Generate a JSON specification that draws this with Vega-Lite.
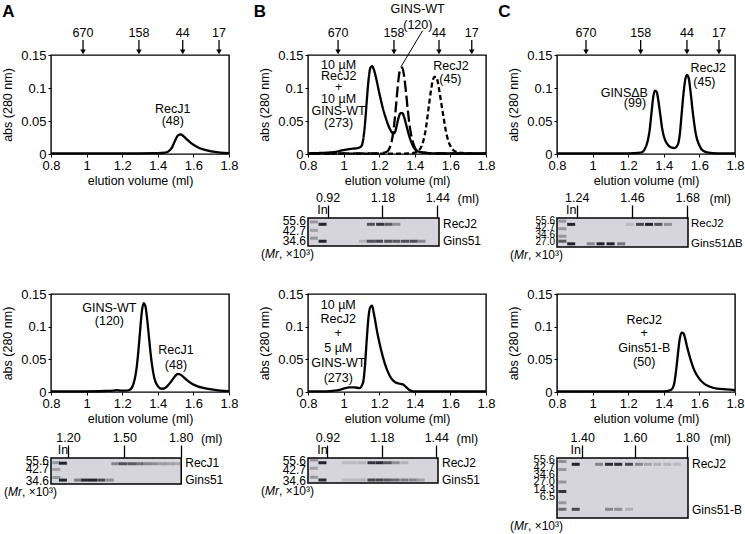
{
 "$schema": "https://vega.github.io/schema/vega-lite/v6.json",
 "padding": {"left": 0, "top": 2, "right": 0, "bottom": 0},
 "background": "white",
 "datasets": {
  "curves": [
   {"p":"A1","s":"c","ml":0.8,"abs":0.001},{"p":"A1","s":"c","ml":1.0,"abs":0.001},{"p":"A1","s":"c","ml":1.2,"abs":0.001},{"p":"A1","s":"c","ml":1.4,"abs":0.0012},{"p":"A1","s":"c","ml":1.44,"abs":0.002},{"p":"A1","s":"c","ml":1.46,"abs":0.004},{"p":"A1","s":"c","ml":1.48,"abs":0.01},{"p":"A1","s":"c","ml":1.49,"abs":0.016},{"p":"A1","s":"c","ml":1.5,"abs":0.022},{"p":"A1","s":"c","ml":1.51,"abs":0.027},{"p":"A1","s":"c","ml":1.52,"abs":0.0295},{"p":"A1","s":"c","ml":1.53,"abs":0.0298},{"p":"A1","s":"c","ml":1.54,"abs":0.028},{"p":"A1","s":"c","ml":1.56,"abs":0.023},{"p":"A1","s":"c","ml":1.58,"abs":0.018},{"p":"A1","s":"c","ml":1.6,"abs":0.014},{"p":"A1","s":"c","ml":1.63,"abs":0.0095},{"p":"A1","s":"c","ml":1.66,"abs":0.0065},{"p":"A1","s":"c","ml":1.7,"abs":0.004},{"p":"A1","s":"c","ml":1.75,"abs":0.0022},{"p":"A1","s":"c","ml":1.8,"abs":0.0012},
   {"p":"A2","s":"c","ml":0.8,"abs":0.001},{"p":"A2","s":"c","ml":1.0,"abs":0.001},{"p":"A2","s":"c","ml":1.1,"abs":0.0015},{"p":"A2","s":"c","ml":1.15,"abs":0.002},{"p":"A2","s":"c","ml":1.17,"abs":0.0028},{"p":"A2","s":"c","ml":1.19,"abs":0.0022},{"p":"A2","s":"c","ml":1.22,"abs":0.002},{"p":"A2","s":"c","ml":1.24,"abs":0.003},{"p":"A2","s":"c","ml":1.26,"abs":0.01},{"p":"A2","s":"c","ml":1.28,"abs":0.035},{"p":"A2","s":"c","ml":1.29,"abs":0.06},{"p":"A2","s":"c","ml":1.3,"abs":0.092},{"p":"A2","s":"c","ml":1.31,"abs":0.122},{"p":"A2","s":"c","ml":1.32,"abs":0.136},{"p":"A2","s":"c","ml":1.33,"abs":0.132},{"p":"A2","s":"c","ml":1.34,"abs":0.112},{"p":"A2","s":"c","ml":1.35,"abs":0.085},{"p":"A2","s":"c","ml":1.36,"abs":0.058},{"p":"A2","s":"c","ml":1.37,"abs":0.037},{"p":"A2","s":"c","ml":1.38,"abs":0.022},{"p":"A2","s":"c","ml":1.4,"abs":0.009},{"p":"A2","s":"c","ml":1.42,"abs":0.005},{"p":"A2","s":"c","ml":1.44,"abs":0.006},{"p":"A2","s":"c","ml":1.46,"abs":0.011},{"p":"A2","s":"c","ml":1.48,"abs":0.018},{"p":"A2","s":"c","ml":1.5,"abs":0.025},{"p":"A2","s":"c","ml":1.51,"abs":0.0275},{"p":"A2","s":"c","ml":1.52,"abs":0.0275},{"p":"A2","s":"c","ml":1.54,"abs":0.024},{"p":"A2","s":"c","ml":1.56,"abs":0.019},{"p":"A2","s":"c","ml":1.59,"abs":0.013},{"p":"A2","s":"c","ml":1.62,"abs":0.009},{"p":"A2","s":"c","ml":1.66,"abs":0.006},{"p":"A2","s":"c","ml":1.7,"abs":0.004},{"p":"A2","s":"c","ml":1.75,"abs":0.002},{"p":"A2","s":"c","ml":1.8,"abs":0.0012},
   {"p":"B1","s":"c","ml":0.8,"abs":0.001},{"p":"B1","s":"c","ml":0.9,"abs":0.002},{"p":"B1","s":"c","ml":0.95,"abs":0.003},{"p":"B1","s":"c","ml":1.0,"abs":0.006},{"p":"B1","s":"c","ml":1.05,"abs":0.008},{"p":"B1","s":"c","ml":1.08,"abs":0.009},{"p":"B1","s":"c","ml":1.1,"abs":0.012},{"p":"B1","s":"c","ml":1.11,"abs":0.022},{"p":"B1","s":"c","ml":1.12,"abs":0.045},{"p":"B1","s":"c","ml":1.13,"abs":0.08},{"p":"B1","s":"c","ml":1.14,"abs":0.112},{"p":"B1","s":"c","ml":1.15,"abs":0.13},{"p":"B1","s":"c","ml":1.16,"abs":0.133},{"p":"B1","s":"c","ml":1.17,"abs":0.128},{"p":"B1","s":"c","ml":1.18,"abs":0.118},{"p":"B1","s":"c","ml":1.2,"abs":0.093},{"p":"B1","s":"c","ml":1.22,"abs":0.07},{"p":"B1","s":"c","ml":1.24,"abs":0.052},{"p":"B1","s":"c","ml":1.26,"abs":0.038},{"p":"B1","s":"c","ml":1.28,"abs":0.031},{"p":"B1","s":"c","ml":1.29,"abs":0.034},{"p":"B1","s":"c","ml":1.3,"abs":0.045},{"p":"B1","s":"c","ml":1.31,"abs":0.056},{"p":"B1","s":"c","ml":1.32,"abs":0.062},{"p":"B1","s":"c","ml":1.33,"abs":0.062},{"p":"B1","s":"c","ml":1.34,"abs":0.056},{"p":"B1","s":"c","ml":1.35,"abs":0.046},{"p":"B1","s":"c","ml":1.37,"abs":0.026},{"p":"B1","s":"c","ml":1.39,"abs":0.012},{"p":"B1","s":"c","ml":1.41,"abs":0.005},{"p":"B1","s":"c","ml":1.43,"abs":0.003},{"p":"B1","s":"c","ml":1.46,"abs":0.002},{"p":"B1","s":"c","ml":1.5,"abs":0.001},{"p":"B1","s":"c","ml":1.8,"abs":0.001},
   {"p":"B1","s":"g","ml":0.8,"abs":0.0005},{"p":"B1","s":"g","ml":1.0,"abs":0.001},{"p":"B1","s":"g","ml":1.2,"abs":0.001},{"p":"B1","s":"g","ml":1.24,"abs":0.003},{"p":"B1","s":"g","ml":1.26,"abs":0.01},{"p":"B1","s":"g","ml":1.28,"abs":0.035},{"p":"B1","s":"g","ml":1.29,"abs":0.06},{"p":"B1","s":"g","ml":1.3,"abs":0.09},{"p":"B1","s":"g","ml":1.31,"abs":0.117},{"p":"B1","s":"g","ml":1.32,"abs":0.13},{"p":"B1","s":"g","ml":1.33,"abs":0.131},{"p":"B1","s":"g","ml":1.34,"abs":0.118},{"p":"B1","s":"g","ml":1.35,"abs":0.095},{"p":"B1","s":"g","ml":1.36,"abs":0.068},{"p":"B1","s":"g","ml":1.37,"abs":0.045},{"p":"B1","s":"g","ml":1.38,"abs":0.028},{"p":"B1","s":"g","ml":1.4,"abs":0.01},{"p":"B1","s":"g","ml":1.42,"abs":0.004},{"p":"B1","s":"g","ml":1.45,"abs":0.002},{"p":"B1","s":"g","ml":1.5,"abs":0.001},{"p":"B1","s":"g","ml":1.8,"abs":0.0005},
   {"p":"B1","s":"r","ml":0.8,"abs":0.0005},{"p":"B1","s":"r","ml":1.3,"abs":0.0005},{"p":"B1","s":"r","ml":1.38,"abs":0.001},{"p":"B1","s":"r","ml":1.4,"abs":0.002},{"p":"B1","s":"r","ml":1.42,"abs":0.005},{"p":"B1","s":"r","ml":1.44,"abs":0.013},{"p":"B1","s":"r","ml":1.46,"abs":0.035},{"p":"B1","s":"r","ml":1.48,"abs":0.075},{"p":"B1","s":"r","ml":1.49,"abs":0.095},{"p":"B1","s":"r","ml":1.5,"abs":0.11},{"p":"B1","s":"r","ml":1.51,"abs":0.117},{"p":"B1","s":"r","ml":1.52,"abs":0.117},{"p":"B1","s":"r","ml":1.53,"abs":0.108},{"p":"B1","s":"r","ml":1.54,"abs":0.092},{"p":"B1","s":"r","ml":1.56,"abs":0.058},{"p":"B1","s":"r","ml":1.58,"abs":0.028},{"p":"B1","s":"r","ml":1.6,"abs":0.012},{"p":"B1","s":"r","ml":1.62,"abs":0.005},{"p":"B1","s":"r","ml":1.65,"abs":0.002},{"p":"B1","s":"r","ml":1.7,"abs":0.001},{"p":"B1","s":"r","ml":1.8,"abs":0.0005},
   {"p":"B2","s":"c","ml":0.8,"abs":0.001},{"p":"B2","s":"c","ml":0.9,"abs":0.001},{"p":"B2","s":"c","ml":0.95,"abs":0.002},{"p":"B2","s":"c","ml":1.0,"abs":0.005},{"p":"B2","s":"c","ml":1.03,"abs":0.007},{"p":"B2","s":"c","ml":1.06,"abs":0.007},{"p":"B2","s":"c","ml":1.09,"abs":0.006},{"p":"B2","s":"c","ml":1.11,"abs":0.015},{"p":"B2","s":"c","ml":1.12,"abs":0.04},{"p":"B2","s":"c","ml":1.13,"abs":0.08},{"p":"B2","s":"c","ml":1.14,"abs":0.115},{"p":"B2","s":"c","ml":1.15,"abs":0.13},{"p":"B2","s":"c","ml":1.16,"abs":0.132},{"p":"B2","s":"c","ml":1.17,"abs":0.12},{"p":"B2","s":"c","ml":1.19,"abs":0.09},{"p":"B2","s":"c","ml":1.21,"abs":0.065},{"p":"B2","s":"c","ml":1.23,"abs":0.045},{"p":"B2","s":"c","ml":1.25,"abs":0.03},{"p":"B2","s":"c","ml":1.27,"abs":0.02},{"p":"B2","s":"c","ml":1.29,"abs":0.015},{"p":"B2","s":"c","ml":1.31,"abs":0.013},{"p":"B2","s":"c","ml":1.33,"abs":0.012},{"p":"B2","s":"c","ml":1.35,"abs":0.008},{"p":"B2","s":"c","ml":1.37,"abs":0.003},{"p":"B2","s":"c","ml":1.39,"abs":0.001},{"p":"B2","s":"c","ml":1.8,"abs":0.001},
   {"p":"C1","s":"c","ml":0.8,"abs":0.001},{"p":"C1","s":"c","ml":1.2,"abs":0.001},{"p":"C1","s":"c","ml":1.27,"abs":0.002},{"p":"C1","s":"c","ml":1.29,"abs":0.006},{"p":"C1","s":"c","ml":1.31,"abs":0.02},{"p":"C1","s":"c","ml":1.32,"abs":0.035},{"p":"C1","s":"c","ml":1.33,"abs":0.06},{"p":"C1","s":"c","ml":1.34,"abs":0.085},{"p":"C1","s":"c","ml":1.35,"abs":0.096},{"p":"C1","s":"c","ml":1.36,"abs":0.094},{"p":"C1","s":"c","ml":1.37,"abs":0.08},{"p":"C1","s":"c","ml":1.38,"abs":0.06},{"p":"C1","s":"c","ml":1.39,"abs":0.04},{"p":"C1","s":"c","ml":1.4,"abs":0.027},{"p":"C1","s":"c","ml":1.42,"abs":0.015},{"p":"C1","s":"c","ml":1.44,"abs":0.01},{"p":"C1","s":"c","ml":1.46,"abs":0.009},{"p":"C1","s":"c","ml":1.48,"abs":0.015},{"p":"C1","s":"c","ml":1.49,"abs":0.03},{"p":"C1","s":"c","ml":1.5,"abs":0.06},{"p":"C1","s":"c","ml":1.51,"abs":0.09},{"p":"C1","s":"c","ml":1.52,"abs":0.112},{"p":"C1","s":"c","ml":1.53,"abs":0.12},{"p":"C1","s":"c","ml":1.54,"abs":0.115},{"p":"C1","s":"c","ml":1.55,"abs":0.095},{"p":"C1","s":"c","ml":1.56,"abs":0.07},{"p":"C1","s":"c","ml":1.57,"abs":0.048},{"p":"C1","s":"c","ml":1.58,"abs":0.03},{"p":"C1","s":"c","ml":1.6,"abs":0.013},{"p":"C1","s":"c","ml":1.62,"abs":0.005},{"p":"C1","s":"c","ml":1.65,"abs":0.002},{"p":"C1","s":"c","ml":1.7,"abs":0.001},{"p":"C1","s":"c","ml":1.8,"abs":0.001},
   {"p":"C2","s":"c","ml":0.8,"abs":0.001},{"p":"C2","s":"c","ml":1.2,"abs":0.001},{"p":"C2","s":"c","ml":1.4,"abs":0.001},{"p":"C2","s":"c","ml":1.43,"abs":0.002},{"p":"C2","s":"c","ml":1.45,"abs":0.006},{"p":"C2","s":"c","ml":1.46,"abs":0.015},{"p":"C2","s":"c","ml":1.47,"abs":0.035},{"p":"C2","s":"c","ml":1.48,"abs":0.06},{"p":"C2","s":"c","ml":1.49,"abs":0.082},{"p":"C2","s":"c","ml":1.5,"abs":0.091},{"p":"C2","s":"c","ml":1.51,"abs":0.09},{"p":"C2","s":"c","ml":1.52,"abs":0.082},{"p":"C2","s":"c","ml":1.53,"abs":0.07},{"p":"C2","s":"c","ml":1.55,"abs":0.05},{"p":"C2","s":"c","ml":1.57,"abs":0.034},{"p":"C2","s":"c","ml":1.6,"abs":0.02},{"p":"C2","s":"c","ml":1.63,"abs":0.012},{"p":"C2","s":"c","ml":1.66,"abs":0.008},{"p":"C2","s":"c","ml":1.7,"abs":0.005},{"p":"C2","s":"c","ml":1.75,"abs":0.004},{"p":"C2","s":"c","ml":1.8,"abs":0.003}
  ],
  "mk": [
   {"p":"A1","t":"670","ml":0.98},{"p":"A1","t":"158","ml":1.294},{"p":"A1","t":"44","ml":1.54},{"p":"A1","t":"17","ml":1.744},
   {"p":"B1","t":"670","ml":0.969},{"p":"B1","t":"158","ml":1.283},{"p":"B1","t":"44","ml":1.536},{"p":"B1","t":"17","ml":1.72},
   {"p":"C1","t":"670","ml":0.963},{"p":"C1","t":"158","ml":1.27},{"p":"C1","t":"44","ml":1.53},{"p":"C1","t":"17","ml":1.71}
  ],
  "ann": [
   {"p":"A1","k":"L","t":"A","ml":0.561,"abs":0.2155},
   {"p":"A1","k":"n","t":"RecJ1","ml":1.484,"abs":0.068},{"p":"A1","k":"n","t":"(48)","ml":1.484,"abs":0.05},
   {"p":"A2","k":"n","t":"GINS-WT","ml":1.128,"abs":0.129},{"p":"A2","k":"n","t":"(120)","ml":1.128,"abs":0.108},{"p":"A2","k":"n","t":"RecJ1","ml":1.502,"abs":0.064},{"p":"A2","k":"n","t":"(48)","ml":1.502,"abs":0.042},
   {"p":"B1","k":"L","t":"B","ml":0.53,"abs":0.2155},
   {"p":"B1","k":"n","t":"10 µM","ml":0.972,"abs":0.135},{"p":"B1","k":"n","t":"RecJ2","ml":0.972,"abs":0.118},{"p":"B1","k":"n","t":"+","ml":0.972,"abs":0.102},{"p":"B1","k":"n","t":"10 µM","ml":0.972,"abs":0.084},{"p":"B1","k":"n","t":"GINS-WT","ml":0.972,"abs":0.065},{"p":"B1","k":"n","t":"(273)","ml":0.972,"abs":0.047},
   {"p":"B1","k":"n","t":"GINS-WT","ml":1.416,"abs":0.219},{"p":"B1","k":"n","t":"(120)","ml":1.417,"abs":0.196},{"p":"B1","k":"n","t":"RecJ2","ml":1.603,"abs":0.134},{"p":"B1","k":"n","t":"(45)","ml":1.6,"abs":0.113},
   {"p":"B2","k":"n","t":"10 µM","ml":0.97,"abs":0.133},{"p":"B2","k":"n","t":"RecJ2","ml":0.97,"abs":0.112},{"p":"B2","k":"n","t":"+","ml":0.97,"abs":0.091},{"p":"B2","k":"n","t":"5 µM","ml":0.97,"abs":0.067},{"p":"B2","k":"n","t":"GINS-WT","ml":0.97,"abs":0.044},{"p":"B2","k":"n","t":"(273)","ml":0.97,"abs":0.021},
   {"p":"C1","k":"L","t":"C","ml":0.504,"abs":0.2155},
   {"p":"C1","k":"n","t":"GINSΔB","ml":1.178,"abs":0.093},{"p":"C1","k":"n","t":"(99)","ml":1.238,"abs":0.077},{"p":"C1","k":"n","t":"RecJ2","ml":1.65,"abs":0.131},{"p":"C1","k":"n","t":"(45)","ml":1.628,"abs":0.109},
   {"p":"C2","k":"n","t":"RecJ2","ml":1.29,"abs":0.11},{"p":"C2","k":"n","t":"+","ml":1.29,"abs":0.091},{"p":"C2","k":"n","t":"Gins51-B","ml":1.29,"abs":0.067},{"p":"C2","k":"n","t":"(50)","ml":1.29,"abs":0.046}
  ],
  "lead": [{"p":"B1","ml":1.444,"abs":0.187,"ml2":1.322,"abs2":0.132}],
  "bands": [
   {"g":"A2","ml":1.138,"pos":0.18,"v":0.35},{"g":"A2","ml":1.138,"pos":0.44,"v":0.3},{"g":"A2","ml":1.138,"pos":0.75,"v":0.35},
   {"g":"A2","ml":1.173,"pos":0.2,"v":1},{"g":"A2","ml":1.173,"pos":0.85,"v":1},
   {"g":"A2","ml":1.253,"pos":0.85,"v":0.5},{"g":"A2","ml":1.292,"pos":0.85,"v":0.95},{"g":"A2","ml":1.333,"pos":0.85,"v":1},{"g":"A2","ml":1.377,"pos":0.85,"v":0.8},{"g":"A2","ml":1.422,"pos":0.85,"v":0.4},
   {"g":"A2","ml":1.452,"pos":0.22,"v":0.45},{"g":"A2","ml":1.493,"pos":0.22,"v":0.75},{"g":"A2","ml":1.537,"pos":0.22,"v":0.7},{"g":"A2","ml":1.578,"pos":0.22,"v":0.55},{"g":"A2","ml":1.617,"pos":0.22,"v":0.45},{"g":"A2","ml":1.658,"pos":0.22,"v":0.4},{"g":"A2","ml":1.701,"pos":0.22,"v":0.32},{"g":"A2","ml":1.742,"pos":0.22,"v":0.28},{"g":"A2","ml":1.782,"pos":0.22,"v":0.25},
   {"g":"B1","ml":0.855,"pos":0.14,"v":0.35},{"g":"B1","ml":0.855,"pos":0.44,"v":0.3},{"g":"B1","ml":0.855,"pos":0.72,"v":0.35},
   {"g":"B1","ml":0.896,"pos":0.225,"v":1},{"g":"B1","ml":0.896,"pos":0.83,"v":1},
   {"g":"B1","ml":1.125,"pos":0.225,"v":0.75},{"g":"B1","ml":1.169,"pos":0.225,"v":0.9},{"g":"B1","ml":1.208,"pos":0.225,"v":0.7},{"g":"B1","ml":1.246,"pos":0.225,"v":0.4},
   {"g":"B1","ml":1.088,"pos":0.83,"v":0.2},{"g":"B1","ml":1.125,"pos":0.83,"v":0.75},{"g":"B1","ml":1.164,"pos":0.83,"v":0.8},{"g":"B1","ml":1.207,"pos":0.83,"v":0.75},{"g":"B1","ml":1.246,"pos":0.83,"v":0.7},{"g":"B1","ml":1.287,"pos":0.83,"v":0.75},{"g":"B1","ml":1.327,"pos":0.83,"v":0.75},{"g":"B1","ml":1.365,"pos":0.83,"v":0.45},
   {"g":"B2","ml":0.855,"pos":0.08,"v":0.35},{"g":"B2","ml":0.855,"pos":0.41,"v":0.3},{"g":"B2","ml":0.855,"pos":0.77,"v":0.35},
   {"g":"B2","ml":0.896,"pos":0.19,"v":1},{"g":"B2","ml":0.896,"pos":0.88,"v":0.95},
   {"g":"B2","ml":1.007,"pos":0.19,"v":0.15},{"g":"B2","ml":1.046,"pos":0.19,"v":0.15},{"g":"B2","ml":1.086,"pos":0.19,"v":0.18},{"g":"B2","ml":1.13,"pos":0.19,"v":0.9},{"g":"B2","ml":1.169,"pos":0.19,"v":0.95},{"g":"B2","ml":1.208,"pos":0.19,"v":0.7},{"g":"B2","ml":1.246,"pos":0.19,"v":0.4},{"g":"B2","ml":1.287,"pos":0.19,"v":0.2},
   {"g":"B2","ml":1.007,"pos":0.88,"v":0.15},{"g":"B2","ml":1.046,"pos":0.88,"v":0.15},{"g":"B2","ml":1.086,"pos":0.88,"v":0.18},{"g":"B2","ml":1.13,"pos":0.88,"v":0.8},{"g":"B2","ml":1.169,"pos":0.88,"v":0.8},{"g":"B2","ml":1.208,"pos":0.88,"v":0.7},{"g":"B2","ml":1.246,"pos":0.88,"v":0.6},{"g":"B2","ml":1.287,"pos":0.88,"v":0.5},{"g":"B2","ml":1.327,"pos":0.88,"v":0.45},{"g":"B2","ml":1.365,"pos":0.88,"v":0.3},
   {"g":"C1","ml":1.183,"pos":0.11,"v":0.35},{"g":"C1","ml":1.183,"pos":0.37,"v":0.35},{"g":"C1","ml":1.183,"pos":0.63,"v":0.35},{"g":"C1","ml":1.183,"pos":0.8,"v":0.7},
   {"g":"C1","ml":1.218,"pos":0.22,"v":1},{"g":"C1","ml":1.218,"pos":0.89,"v":1},
   {"g":"C1","ml":1.296,"pos":0.89,"v":0.45},{"g":"C1","ml":1.335,"pos":0.89,"v":1},{"g":"C1","ml":1.375,"pos":0.89,"v":1},{"g":"C1","ml":1.417,"pos":0.89,"v":0.55},
   {"g":"C1","ml":1.452,"pos":0.22,"v":0.15},{"g":"C1","ml":1.492,"pos":0.22,"v":0.8},{"g":"C1","ml":1.528,"pos":0.22,"v":1},{"g":"C1","ml":1.565,"pos":0.22,"v":0.75},{"g":"C1","ml":1.603,"pos":0.22,"v":0.4},
   {"g":"C2","ml":1.324,"pos":0.06,"v":0.4},{"g":"C2","ml":1.324,"pos":0.19,"v":0.35},{"g":"C2","ml":1.324,"pos":0.4,"v":0.35},{"g":"C2","ml":1.324,"pos":0.56,"v":0.9},{"g":"C2","ml":1.324,"pos":0.745,"v":0.35},{"g":"C2","ml":1.324,"pos":0.855,"v":0.6},
   {"g":"C2","ml":1.375,"pos":0.105,"v":1},{"g":"C2","ml":1.375,"pos":0.855,"v":0.8},
   {"g":"C2","ml":1.464,"pos":0.105,"v":0.45},{"g":"C2","ml":1.502,"pos":0.105,"v":0.95},{"g":"C2","ml":1.537,"pos":0.105,"v":0.95},{"g":"C2","ml":1.578,"pos":0.105,"v":0.8},{"g":"C2","ml":1.616,"pos":0.105,"v":0.45},{"g":"C2","ml":1.65,"pos":0.105,"v":0.28},{"g":"C2","ml":1.686,"pos":0.105,"v":0.22},{"g":"C2","ml":1.724,"pos":0.105,"v":0.18},{"g":"C2","ml":1.76,"pos":0.105,"v":0.15},
   {"g":"C2","ml":1.502,"pos":0.855,"v":0.45},{"g":"C2","ml":1.537,"pos":0.855,"v":0.4},{"g":"C2","ml":1.578,"pos":0.855,"v":0.2}
  ],
  "gl": [
   {"g":"A2","side":"L","t":"55.6","pos":0.13},{"g":"A2","side":"L","t":"42.7","pos":0.44},{"g":"A2","side":"L","t":"34.6","pos":0.88},
   {"g":"A2","side":"R","t":"RecJ1","pos":0.18},{"g":"A2","side":"R","t":"Gins51","pos":0.85},
   {"g":"A2","side":"In","t":"In","ml":1.173},{"g":"A2","side":"U","t":"(ml)"},{"g":"A2","side":"M","t":", ×10³)"},{"g":"A2","side":"Mi","t":"Mr"},{"g":"A2","side":"Mp","t":"("},
   {"g":"B1","side":"L","t":"55.6","pos":0.12},{"g":"B1","side":"L","t":"42.7","pos":0.45},{"g":"B1","side":"L","t":"34.6","pos":0.82},
   {"g":"B1","side":"R","t":"RecJ2","pos":0.21},{"g":"B1","side":"R","t":"Gins51","pos":0.83},
   {"g":"B1","side":"In","t":"In","ml":0.896},{"g":"B1","side":"U","t":"(ml)"},{"g":"B1","side":"M","t":", ×10³)"},{"g":"B1","side":"Mi","t":"Mr"},{"g":"B1","side":"Mp","t":"("},
   {"g":"B2","side":"L","t":"55.6","pos":0.13},{"g":"B2","side":"L","t":"42.7","pos":0.48},{"g":"B2","side":"L","t":"34.6","pos":0.92},
   {"g":"B2","side":"R","t":"RecJ2","pos":0.19},{"g":"B2","side":"R","t":"Gins51","pos":0.88},
   {"g":"B2","side":"In","t":"In","ml":0.896},{"g":"B2","side":"U","t":"(ml)"},{"g":"B2","side":"M","t":", ×10³)"},{"g":"B2","side":"Mi","t":"Mr"},{"g":"B2","side":"Mp","t":"("},
   {"g":"C1","side":"L","t":"55.6","pos":0.1},{"g":"C1","side":"L","t":"42.7","pos":0.34},{"g":"C1","side":"L","t":"34.6","pos":0.58},{"g":"C1","side":"L","t":"27.0","pos":0.82},
   {"g":"C1","side":"R","t":"RecJ2","pos":0.22},{"g":"C1","side":"R","t":"Gins51ΔB","pos":0.89},
   {"g":"C1","side":"In","t":"In","ml":1.218},{"g":"C1","side":"U","t":"(ml)"},{"g":"C1","side":"M","t":", ×10³)"},{"g":"C1","side":"Mi","t":"Mr"},{"g":"C1","side":"Mp","t":"("},
   {"g":"C2","side":"L","t":"55.6","pos":0.04},{"g":"C2","side":"L","t":"42.7","pos":0.16},{"g":"C2","side":"L","t":"34.6","pos":0.28},{"g":"C2","side":"L","t":"27.0","pos":0.4},{"g":"C2","side":"L","t":"14.3","pos":0.53},{"g":"C2","side":"L","t":"6.5","pos":0.65},
   {"g":"C2","side":"R","t":"RecJ2","pos":0.105},{"g":"C2","side":"R","t":"Gins51-B","pos":0.86},
   {"g":"C2","side":"In","t":"In","ml":1.375},{"g":"C2","side":"U","t":"(ml)"},{"g":"C2","side":"M","t":", ×10³)"},{"g":"C2","side":"Mi","t":"Mr"},{"g":"C2","side":"Mp","t":"("}
  ]
 },
 "spacing": 25,
 "vconcat": [
  {
   "columns": 3, "align": "each", "bounds": "flush", "spacing": {"row": 64, "column": 71},
   "concat": [
    {
     "width": 178, "height": 99, "view": {"stroke": "black", "strokeWidth": 1.4},
     "layer": [
      {"data": {"name": "curves"}, "transform": [{"filter": "datum.p === 'A1'"}], "mark": {"type": "line", "color": "black", "strokeWidth": 2.3, "interpolate": "monotone"},
       "encoding": {"x": {"field": "ml", "type": "quantitative", "scale": {"domain": [0.8, 1.8], "nice": false, "zero": false}, "axis": {"values": [0.8, 1, 1.2, 1.4, 1.6, 1.8], "tickCount": 12, "format": ".1~f", "labelOverlap": false, "title": "elution volume (ml)"}}, "y": {"field": "abs", "type": "quantitative", "scale": {"domain": [0, 0.15], "nice": false, "zero": false}, "axis": {"values": [0, 0.05, 0.1, 0.15], "tickCount": 12, "format": ".2~f", "labelOverlap": false, "title": "abs (280 nm)"}}}},
      {"data": {"name": "mk"}, "transform": [{"filter": "datum.p === 'A1'"}], "mark": {"type": "rule", "color": "black", "strokeWidth": 1.3}, "encoding": {"x": {"field": "ml", "type": "quantitative"}, "y": {"datum": 0.1727}, "y2": {"datum": 0.153}}},
      {"data": {"name": "mk"}, "transform": [{"filter": "datum.p === 'A1'"}], "mark": {"type": "point", "shape": "triangle-down", "filled": true, "size": 30, "color": "black", "opacity": 1}, "encoding": {"x": {"field": "ml", "type": "quantitative"}, "y": {"datum": 0.1548}}},
      {"data": {"name": "mk"}, "transform": [{"filter": "datum.p === 'A1'"}], "mark": {"type": "text", "fontSize": 12.5}, "encoding": {"x": {"field": "ml", "type": "quantitative"}, "y": {"datum": 0.1833}, "text": {"field": "t"}}},
      {"data": {"name": "ann"}, "transform": [{"filter": "datum.p === 'A1' && datum.k === 'n'"}], "mark": {"type": "text", "fontSize": 12.5}, "encoding": {"x": {"field": "ml", "type": "quantitative"}, "y": {"field": "abs", "type": "quantitative"}, "text": {"field": "t"}}},
      {"data": {"name": "ann"}, "transform": [{"filter": "datum.p === 'A1' && datum.k === 'L'"}], "mark": {"type": "text", "fontSize": 17, "fontWeight": "bold"}, "encoding": {"x": {"field": "ml", "type": "quantitative"}, "y": {"field": "abs", "type": "quantitative"}, "text": {"field": "t"}}}
     ]
    },
    {
     "width": 178, "height": 99, "view": {"stroke": "black", "strokeWidth": 1.4},
     "layer": [
      {"data": {"name": "curves"}, "transform": [{"filter": "datum.p === 'B1'"}], "mark": {"type": "line", "color": "black", "strokeWidth": 2.3, "interpolate": "monotone"},
       "encoding": {"x": {"field": "ml", "type": "quantitative", "scale": {"domain": [0.8, 1.8], "nice": false, "zero": false}, "axis": {"values": [0.8, 1, 1.2, 1.4, 1.6, 1.8], "tickCount": 12, "format": ".1~f", "labelOverlap": false, "title": "elution volume (ml)"}}, "y": {"field": "abs", "type": "quantitative", "scale": {"domain": [0, 0.15], "nice": false, "zero": false}, "axis": {"values": [0, 0.05, 0.1, 0.15], "tickCount": 12, "format": ".2~f", "labelOverlap": false, "title": "abs (280 nm)"}},
        "strokeDash": {"field": "s", "type": "nominal", "scale": {"domain": ["c", "g", "r"], "range": [[1, 0], [11, 4], [5, 3]]}, "legend": null}}},
      {"data": {"name": "lead"}, "mark": {"type": "rule", "color": "black", "strokeWidth": 1}, "encoding": {"x": {"field": "ml", "type": "quantitative"}, "y": {"field": "abs", "type": "quantitative"}, "x2": {"field": "ml2"}, "y2": {"field": "abs2"}}},
      {"data": {"name": "mk"}, "transform": [{"filter": "datum.p === 'B1'"}], "mark": {"type": "rule", "color": "black", "strokeWidth": 1.3}, "encoding": {"x": {"field": "ml", "type": "quantitative"}, "y": {"datum": 0.1727}, "y2": {"datum": 0.153}}},
      {"data": {"name": "mk"}, "transform": [{"filter": "datum.p === 'B1'"}], "mark": {"type": "point", "shape": "triangle-down", "filled": true, "size": 30, "color": "black", "opacity": 1}, "encoding": {"x": {"field": "ml", "type": "quantitative"}, "y": {"datum": 0.1548}}},
      {"data": {"name": "mk"}, "transform": [{"filter": "datum.p === 'B1'"}], "mark": {"type": "text", "fontSize": 12.5}, "encoding": {"x": {"field": "ml", "type": "quantitative"}, "y": {"datum": 0.1833}, "text": {"field": "t"}}},
      {"data": {"name": "ann"}, "transform": [{"filter": "datum.p === 'B1' && datum.k === 'n'"}], "mark": {"type": "text", "fontSize": 12.5}, "encoding": {"x": {"field": "ml", "type": "quantitative"}, "y": {"field": "abs", "type": "quantitative"}, "text": {"field": "t"}}},
      {"data": {"name": "ann"}, "transform": [{"filter": "datum.p === 'B1' && datum.k === 'L'"}], "mark": {"type": "text", "fontSize": 17, "fontWeight": "bold"}, "encoding": {"x": {"field": "ml", "type": "quantitative"}, "y": {"field": "abs", "type": "quantitative"}, "text": {"field": "t"}}}
     ]
    },
    {
     "width": 178, "height": 99, "view": {"stroke": "black", "strokeWidth": 1.4},
     "layer": [
      {"data": {"name": "curves"}, "transform": [{"filter": "datum.p === 'C1'"}], "mark": {"type": "line", "color": "black", "strokeWidth": 2.3, "interpolate": "monotone"},
       "encoding": {"x": {"field": "ml", "type": "quantitative", "scale": {"domain": [0.8, 1.8], "nice": false, "zero": false}, "axis": {"values": [0.8, 1, 1.2, 1.4, 1.6, 1.8], "tickCount": 12, "format": ".1~f", "labelOverlap": false, "title": "elution volume (ml)"}}, "y": {"field": "abs", "type": "quantitative", "scale": {"domain": [0, 0.15], "nice": false, "zero": false}, "axis": {"values": [0, 0.05, 0.1, 0.15], "tickCount": 12, "format": ".2~f", "labelOverlap": false, "title": "abs (280 nm)"}}}},
      {"data": {"name": "mk"}, "transform": [{"filter": "datum.p === 'C1'"}], "mark": {"type": "rule", "color": "black", "strokeWidth": 1.3}, "encoding": {"x": {"field": "ml", "type": "quantitative"}, "y": {"datum": 0.1727}, "y2": {"datum": 0.153}}},
      {"data": {"name": "mk"}, "transform": [{"filter": "datum.p === 'C1'"}], "mark": {"type": "point", "shape": "triangle-down", "filled": true, "size": 30, "color": "black", "opacity": 1}, "encoding": {"x": {"field": "ml", "type": "quantitative"}, "y": {"datum": 0.1548}}},
      {"data": {"name": "mk"}, "transform": [{"filter": "datum.p === 'C1'"}], "mark": {"type": "text", "fontSize": 12.5}, "encoding": {"x": {"field": "ml", "type": "quantitative"}, "y": {"datum": 0.1833}, "text": {"field": "t"}}},
      {"data": {"name": "ann"}, "transform": [{"filter": "datum.p === 'C1' && datum.k === 'n'"}], "mark": {"type": "text", "fontSize": 12.5}, "encoding": {"x": {"field": "ml", "type": "quantitative"}, "y": {"field": "abs", "type": "quantitative"}, "text": {"field": "t"}}},
      {"data": {"name": "ann"}, "transform": [{"filter": "datum.p === 'C1' && datum.k === 'L'"}], "mark": {"type": "text", "fontSize": 17, "fontWeight": "bold"}, "encoding": {"x": {"field": "ml", "type": "quantitative"}, "y": {"field": "abs", "type": "quantitative"}, "text": {"field": "t"}}}
     ]
    },
    {"width": 186, "height": 28, "data": {"values": [{"t": ""}]}, "mark": {"type": "text"}, "encoding": {"text": {"field": "t"}}},
    {
     "width": 131, "height": 28, "view": {"fill": "#d5d5db", "stroke": "black", "strokeWidth": 1.5},
     "layer": [
      {"data": {"name": "bands"}, "transform": [{"filter": "datum.g === 'B1'"}], "mark": {"type": "tick", "orient": "horizontal", "size": 8, "thickness": 3, "color": "#23232e"},
       "encoding": {"x": {"field": "ml", "type": "quantitative", "scale": {"domain": [0.827, 1.448], "nice": false, "zero": false}, "axis": {"orient": "top", "values": [0.92, 1.18, 1.44], "tickCount": 12, "format": ".2f", "labelOverlap": false, "tickSize": 13, "tickWidth": 1.3, "labelPadding": 1, "labelFontSize": 12.5, "title": null}}, "y": {"field": "pos", "type": "quantitative", "scale": {"domain": [0, 1], "reverse": true, "nice": false, "zero": false}, "axis": null}, "opacity": {"field": "v", "type": "quantitative", "scale": {"domain": [0, 1], "range": [0, 1]}, "legend": null}}},
      {"data": {"name": "gl"}, "transform": [{"filter": "datum.g === 'B1' && datum.side === 'L'"}], "mark": {"type": "text", "align": "right", "dx": -2, "fontSize": 12}, "encoding": {"x": {"datum": 0.827}, "y": {"field": "pos", "type": "quantitative", "axis": null}, "text": {"field": "t"}}},
      {"data": {"name": "gl"}, "transform": [{"filter": "datum.g === 'B1' && datum.side === 'R'"}], "mark": {"type": "text", "align": "left", "dx": 4, "fontSize": 12}, "encoding": {"x": {"datum": 1.448}, "y": {"field": "pos", "type": "quantitative", "axis": null}, "text": {"field": "t"}}},
      {"data": {"name": "gl"}, "transform": [{"filter": "datum.g === 'B1' && datum.side === 'In'"}], "mark": {"type": "text", "baseline": "bottom", "dy": -1, "fontSize": 12.5}, "encoding": {"x": {"field": "ml", "type": "quantitative"}, "y": {"datum": 0, "axis": null}, "text": {"field": "t"}}},
      {"data": {"name": "gl"}, "transform": [{"filter": "datum.g === 'B1' && datum.side === 'U'"}], "mark": {"type": "text", "dx": 31, "dy": -19.5, "fontSize": 12.5}, "encoding": {"x": {"datum": 1.44}, "y": {"datum": 0, "axis": null}, "text": {"field": "t"}}},
      {"data": {"name": "gl"}, "transform": [{"filter": "datum.g === 'B1' && datum.side === 'M'"}], "mark": {"type": "text", "align": "right", "baseline": "top", "dx": 6, "dy": 3, "fontSize": 12}, "encoding": {"x": {"datum": 0.827}, "y": {"datum": 1, "axis": null}, "text": {"field": "t"}}},
      {"data": {"name": "gl"}, "transform": [{"filter": "datum.g === 'B1' && datum.side === 'Mi'"}], "mark": {"type": "text", "align": "right", "baseline": "top", "dx": -29, "dy": 3, "fontSize": 12, "fontStyle": "italic"}, "encoding": {"x": {"datum": 0.827}, "y": {"datum": 1, "axis": null}, "text": {"field": "t"}}},
      {"data": {"name": "gl"}, "transform": [{"filter": "datum.g === 'B1' && datum.side === 'Mp'"}], "mark": {"type": "text", "align": "right", "baseline": "top", "dx": -43, "dy": 3, "fontSize": 12}, "encoding": {"x": {"datum": 0.827}, "y": {"datum": 1, "axis": null}, "text": {"field": "t"}}}
     ]
    },
    {
     "width": 131, "height": 29, "view": {"fill": "#d5d5db", "stroke": "black", "strokeWidth": 1.5},
     "layer": [
      {"data": {"name": "bands"}, "transform": [{"filter": "datum.g === 'C1'"}], "mark": {"type": "tick", "orient": "horizontal", "size": 8, "thickness": 3, "color": "#23232e"},
       "encoding": {"x": {"field": "ml", "type": "quantitative", "scale": {"domain": [1.1616, 1.683], "nice": false, "zero": false}, "axis": {"orient": "top", "values": [1.24, 1.46, 1.68], "tickCount": 12, "format": ".2f", "labelOverlap": false, "tickSize": 13, "tickWidth": 1.3, "labelPadding": 1, "labelFontSize": 12.5, "title": null}}, "y": {"field": "pos", "type": "quantitative", "scale": {"domain": [0, 1], "reverse": true, "nice": false, "zero": false}, "axis": null}, "opacity": {"field": "v", "type": "quantitative", "scale": {"domain": [0, 1], "range": [0, 1]}, "legend": null}}},
      {"data": {"name": "gl"}, "transform": [{"filter": "datum.g === 'C1' && datum.side === 'L'"}], "mark": {"type": "text", "align": "right", "dx": -2, "fontSize": 10}, "encoding": {"x": {"datum": 1.1616}, "y": {"field": "pos", "type": "quantitative", "axis": null}, "text": {"field": "t"}}},
      {"data": {"name": "gl"}, "transform": [{"filter": "datum.g === 'C1' && datum.side === 'R'"}], "mark": {"type": "text", "align": "left", "dx": 3, "fontSize": 11.5}, "encoding": {"x": {"datum": 1.683}, "y": {"field": "pos", "type": "quantitative", "axis": null}, "text": {"field": "t"}}},
      {"data": {"name": "gl"}, "transform": [{"filter": "datum.g === 'C1' && datum.side === 'In'"}], "mark": {"type": "text", "baseline": "bottom", "dy": -1, "fontSize": 12.5}, "encoding": {"x": {"field": "ml", "type": "quantitative"}, "y": {"datum": 0, "axis": null}, "text": {"field": "t"}}},
      {"data": {"name": "gl"}, "transform": [{"filter": "datum.g === 'C1' && datum.side === 'U'"}], "mark": {"type": "text", "dx": 33, "dy": -19.5, "fontSize": 12.5}, "encoding": {"x": {"datum": 1.68}, "y": {"datum": 0, "axis": null}, "text": {"field": "t"}}},
      {"data": {"name": "gl"}, "transform": [{"filter": "datum.g === 'C1' && datum.side === 'M'"}], "mark": {"type": "text", "align": "right", "baseline": "top", "dx": 6, "dy": 3, "fontSize": 12}, "encoding": {"x": {"datum": 1.1616}, "y": {"datum": 1, "axis": null}, "text": {"field": "t"}}},
      {"data": {"name": "gl"}, "transform": [{"filter": "datum.g === 'C1' && datum.side === 'Mi'"}], "mark": {"type": "text", "align": "right", "baseline": "top", "dx": -29, "dy": 3, "fontSize": 12, "fontStyle": "italic"}, "encoding": {"x": {"datum": 1.1616}, "y": {"datum": 1, "axis": null}, "text": {"field": "t"}}},
      {"data": {"name": "gl"}, "transform": [{"filter": "datum.g === 'C1' && datum.side === 'Mp'"}], "mark": {"type": "text", "align": "right", "baseline": "top", "dx": -43, "dy": 3, "fontSize": 12}, "encoding": {"x": {"datum": 1.1616}, "y": {"datum": 1, "axis": null}, "text": {"field": "t"}}}
     ]
    }
   ]
  },
  {
   "columns": 3, "align": "each", "bounds": "flush", "spacing": {"row": 66, "column": 71},
   "concat": [
    {
     "width": 178, "height": 98, "view": {"stroke": "black", "strokeWidth": 1.4},
     "layer": [
      {"data": {"name": "curves"}, "transform": [{"filter": "datum.p === 'A2'"}], "mark": {"type": "line", "color": "black", "strokeWidth": 2.3, "interpolate": "monotone"},
       "encoding": {"x": {"field": "ml", "type": "quantitative", "scale": {"domain": [0.8, 1.8], "nice": false, "zero": false}, "axis": {"values": [0.8, 1, 1.2, 1.4, 1.6, 1.8], "tickCount": 12, "format": ".1~f", "labelOverlap": false, "title": "elution volume (ml)"}}, "y": {"field": "abs", "type": "quantitative", "scale": {"domain": [0, 0.15], "nice": false, "zero": false}, "axis": {"values": [0, 0.05, 0.1, 0.15], "tickCount": 12, "format": ".2~f", "labelOverlap": false, "title": "abs (280 nm)"}}}},
      {"data": {"name": "ann"}, "transform": [{"filter": "datum.p === 'A2' && datum.k === 'n'"}], "mark": {"type": "text", "fontSize": 12.5}, "encoding": {"x": {"field": "ml", "type": "quantitative"}, "y": {"field": "abs", "type": "quantitative"}, "text": {"field": "t"}}}
     ]
    },
    {
     "width": 178, "height": 98, "view": {"stroke": "black", "strokeWidth": 1.4},
     "layer": [
      {"data": {"name": "curves"}, "transform": [{"filter": "datum.p === 'B2'"}], "mark": {"type": "line", "color": "black", "strokeWidth": 2.3, "interpolate": "monotone"},
       "encoding": {"x": {"field": "ml", "type": "quantitative", "scale": {"domain": [0.8, 1.8], "nice": false, "zero": false}, "axis": {"values": [0.8, 1, 1.2, 1.4, 1.6, 1.8], "tickCount": 12, "format": ".1~f", "labelOverlap": false, "title": "elution volume (ml)"}}, "y": {"field": "abs", "type": "quantitative", "scale": {"domain": [0, 0.15], "nice": false, "zero": false}, "axis": {"values": [0, 0.05, 0.1, 0.15], "tickCount": 12, "format": ".2~f", "labelOverlap": false, "title": "abs (280 nm)"}}}},
      {"data": {"name": "ann"}, "transform": [{"filter": "datum.p === 'B2' && datum.k === 'n'"}], "mark": {"type": "text", "fontSize": 12.5}, "encoding": {"x": {"field": "ml", "type": "quantitative"}, "y": {"field": "abs", "type": "quantitative"}, "text": {"field": "t"}}}
     ]
    },
    {
     "width": 178, "height": 98, "view": {"stroke": "black", "strokeWidth": 1.4},
     "layer": [
      {"data": {"name": "curves"}, "transform": [{"filter": "datum.p === 'C2'"}], "mark": {"type": "line", "color": "black", "strokeWidth": 2.3, "interpolate": "monotone"},
       "encoding": {"x": {"field": "ml", "type": "quantitative", "scale": {"domain": [0.8, 1.8], "nice": false, "zero": false}, "axis": {"values": [0.8, 1, 1.2, 1.4, 1.6, 1.8], "tickCount": 12, "format": ".1~f", "labelOverlap": false, "title": "elution volume (ml)"}}, "y": {"field": "abs", "type": "quantitative", "scale": {"domain": [0, 0.15], "nice": false, "zero": false}, "axis": {"values": [0, 0.05, 0.1, 0.15], "tickCount": 12, "format": ".2~f", "labelOverlap": false, "title": "abs (280 nm)"}}}},
      {"data": {"name": "ann"}, "transform": [{"filter": "datum.p === 'C2' && datum.k === 'n'"}], "mark": {"type": "text", "fontSize": 12.5}, "encoding": {"x": {"field": "ml", "type": "quantitative"}, "y": {"field": "abs", "type": "quantitative"}, "text": {"field": "t"}}}
     ]
    },
    {
     "width": 186, "height": 26,
     "layer": [
      {"mark": {"type": "rect", "fill": "#d5d5db", "stroke": "black", "strokeWidth": 1.5}, "data": {"values": [{"t": "gel"}]}, "encoding": {"x": {"datum": 1.1095}, "x2": {"datum": 1.803}, "y": {"datum": 0, "axis": null}, "y2": {"datum": 1}}},
      {"data": {"name": "bands"}, "transform": [{"filter": "datum.g === 'A2'"}], "mark": {"type": "tick", "orient": "horizontal", "size": 8, "thickness": 3, "color": "#23232e"},
       "encoding": {"x": {"field": "ml", "type": "quantitative", "scale": {"domain": [1.1095, 2.0999], "nice": false, "zero": false}, "axis": {"orient": "top", "values": [1.2, 1.5, 1.8], "tickCount": 12, "format": ".2f", "labelOverlap": false, "tickSize": 13, "tickWidth": 1.3, "labelPadding": 1, "labelFontSize": 12.5, "title": null}}, "y": {"field": "pos", "type": "quantitative", "scale": {"domain": [0, 1], "reverse": true, "nice": false, "zero": false}, "axis": null}, "opacity": {"field": "v", "type": "quantitative", "scale": {"domain": [0, 1], "range": [0, 1]}, "legend": null}}},
      {"data": {"name": "gl"}, "transform": [{"filter": "datum.g === 'A2' && datum.side === 'L'"}], "mark": {"type": "text", "align": "right", "dx": -2, "fontSize": 12}, "encoding": {"x": {"datum": 1.1095}, "y": {"field": "pos", "type": "quantitative", "axis": null}, "text": {"field": "t"}}},
      {"data": {"name": "gl"}, "transform": [{"filter": "datum.g === 'A2' && datum.side === 'R'"}], "mark": {"type": "text", "align": "left", "dx": 4, "fontSize": 12}, "encoding": {"x": {"datum": 1.803}, "y": {"field": "pos", "type": "quantitative", "axis": null}, "text": {"field": "t"}}},
      {"data": {"name": "gl"}, "transform": [{"filter": "datum.g === 'A2' && datum.side === 'In'"}], "mark": {"type": "text", "baseline": "bottom", "dy": -1, "fontSize": 12.5}, "encoding": {"x": {"field": "ml", "type": "quantitative"}, "y": {"datum": 0, "axis": null}, "text": {"field": "t"}}},
      {"data": {"name": "gl"}, "transform": [{"filter": "datum.g === 'A2' && datum.side === 'U'"}], "mark": {"type": "text", "dx": 31, "dy": -19.5, "fontSize": 12.5}, "encoding": {"x": {"datum": 1.8}, "y": {"datum": 0, "axis": null}, "text": {"field": "t"}}},
      {"data": {"name": "gl"}, "transform": [{"filter": "datum.g === 'A2' && datum.side === 'M'"}], "mark": {"type": "text", "align": "right", "baseline": "top", "dx": 6, "dy": 3, "fontSize": 12}, "encoding": {"x": {"datum": 1.1095}, "y": {"datum": 1, "axis": null}, "text": {"field": "t"}}},
      {"data": {"name": "gl"}, "transform": [{"filter": "datum.g === 'A2' && datum.side === 'Mi'"}], "mark": {"type": "text", "align": "right", "baseline": "top", "dx": -29, "dy": 3, "fontSize": 12, "fontStyle": "italic"}, "encoding": {"x": {"datum": 1.1095}, "y": {"datum": 1, "axis": null}, "text": {"field": "t"}}},
      {"data": {"name": "gl"}, "transform": [{"filter": "datum.g === 'A2' && datum.side === 'Mp'"}], "mark": {"type": "text", "align": "right", "baseline": "top", "dx": -43, "dy": 3, "fontSize": 12}, "encoding": {"x": {"datum": 1.1095}, "y": {"datum": 1, "axis": null}, "text": {"field": "t"}}}
     ]
    },
    {
     "width": 130, "height": 25, "view": {"fill": "#d5d5db", "stroke": "black", "strokeWidth": 1.5},
     "layer": [
      {"data": {"name": "bands"}, "transform": [{"filter": "datum.g === 'B2'"}], "mark": {"type": "tick", "orient": "horizontal", "size": 8, "thickness": 3, "color": "#23232e"},
       "encoding": {"x": {"field": "ml", "type": "quantitative", "scale": {"domain": [0.827, 1.448], "nice": false, "zero": false}, "axis": {"orient": "top", "values": [0.92, 1.18, 1.44], "tickCount": 12, "format": ".2f", "labelOverlap": false, "tickSize": 13, "tickWidth": 1.3, "labelPadding": 1, "labelFontSize": 12.5, "title": null}}, "y": {"field": "pos", "type": "quantitative", "scale": {"domain": [0, 1], "reverse": true, "nice": false, "zero": false}, "axis": null}, "opacity": {"field": "v", "type": "quantitative", "scale": {"domain": [0, 1], "range": [0, 1]}, "legend": null}}},
      {"data": {"name": "gl"}, "transform": [{"filter": "datum.g === 'B2' && datum.side === 'L'"}], "mark": {"type": "text", "align": "right", "dx": -2, "fontSize": 12}, "encoding": {"x": {"datum": 0.827}, "y": {"field": "pos", "type": "quantitative", "axis": null}, "text": {"field": "t"}}},
      {"data": {"name": "gl"}, "transform": [{"filter": "datum.g === 'B2' && datum.side === 'R'"}], "mark": {"type": "text", "align": "left", "dx": 4, "fontSize": 12}, "encoding": {"x": {"datum": 1.448}, "y": {"field": "pos", "type": "quantitative", "axis": null}, "text": {"field": "t"}}},
      {"data": {"name": "gl"}, "transform": [{"filter": "datum.g === 'B2' && datum.side === 'In'"}], "mark": {"type": "text", "baseline": "bottom", "dy": -1, "fontSize": 12.5}, "encoding": {"x": {"field": "ml", "type": "quantitative"}, "y": {"datum": 0, "axis": null}, "text": {"field": "t"}}},
      {"data": {"name": "gl"}, "transform": [{"filter": "datum.g === 'B2' && datum.side === 'U'"}], "mark": {"type": "text", "dx": 31, "dy": -19.5, "fontSize": 12.5}, "encoding": {"x": {"datum": 1.44}, "y": {"datum": 0, "axis": null}, "text": {"field": "t"}}},
      {"data": {"name": "gl"}, "transform": [{"filter": "datum.g === 'B2' && datum.side === 'M'"}], "mark": {"type": "text", "align": "right", "baseline": "top", "dx": 6, "dy": 3, "fontSize": 12}, "encoding": {"x": {"datum": 0.827}, "y": {"datum": 1, "axis": null}, "text": {"field": "t"}}},
      {"data": {"name": "gl"}, "transform": [{"filter": "datum.g === 'B2' && datum.side === 'Mi'"}], "mark": {"type": "text", "align": "right", "baseline": "top", "dx": -29, "dy": 3, "fontSize": 12, "fontStyle": "italic"}, "encoding": {"x": {"datum": 0.827}, "y": {"datum": 1, "axis": null}, "text": {"field": "t"}}},
      {"data": {"name": "gl"}, "transform": [{"filter": "datum.g === 'B2' && datum.side === 'Mp'"}], "mark": {"type": "text", "align": "right", "baseline": "top", "dx": -43, "dy": 3, "fontSize": 12}, "encoding": {"x": {"datum": 0.827}, "y": {"datum": 1, "axis": null}, "text": {"field": "t"}}}
     ]
    },
    {
     "width": 131, "height": 60, "view": {"fill": "#d5d5db", "stroke": "black", "strokeWidth": 1.5},
     "layer": [
      {"data": {"name": "bands"}, "transform": [{"filter": "datum.g === 'C2'"}], "mark": {"type": "tick", "orient": "horizontal", "size": 8, "thickness": 3, "color": "#23232e"},
       "encoding": {"x": {"field": "ml", "type": "quantitative", "scale": {"domain": [1.3036, 1.803], "nice": false, "zero": false}, "axis": {"orient": "top", "values": [1.4, 1.6, 1.8], "tickCount": 12, "format": ".2f", "labelOverlap": false, "tickSize": 13, "tickWidth": 1.3, "labelPadding": 1, "labelFontSize": 12.5, "title": null}}, "y": {"field": "pos", "type": "quantitative", "scale": {"domain": [0, 1], "reverse": true, "nice": false, "zero": false}, "axis": null}, "opacity": {"field": "v", "type": "quantitative", "scale": {"domain": [0, 1], "range": [0, 1]}, "legend": null}}},
      {"data": {"name": "gl"}, "transform": [{"filter": "datum.g === 'C2' && datum.side === 'L'"}], "mark": {"type": "text", "align": "right", "dx": -2, "fontSize": 11}, "encoding": {"x": {"datum": 1.3036}, "y": {"field": "pos", "type": "quantitative", "axis": null}, "text": {"field": "t"}}},
      {"data": {"name": "gl"}, "transform": [{"filter": "datum.g === 'C2' && datum.side === 'R'"}], "mark": {"type": "text", "align": "left", "dx": 4, "fontSize": 12}, "encoding": {"x": {"datum": 1.803}, "y": {"field": "pos", "type": "quantitative", "axis": null}, "text": {"field": "t"}}},
      {"data": {"name": "gl"}, "transform": [{"filter": "datum.g === 'C2' && datum.side === 'In'"}], "mark": {"type": "text", "baseline": "bottom", "dy": -1, "fontSize": 12.5}, "encoding": {"x": {"field": "ml", "type": "quantitative"}, "y": {"datum": 0, "axis": null}, "text": {"field": "t"}}},
      {"data": {"name": "gl"}, "transform": [{"filter": "datum.g === 'C2' && datum.side === 'U'"}], "mark": {"type": "text", "dx": 33, "dy": -19.5, "fontSize": 12.5}, "encoding": {"x": {"datum": 1.8}, "y": {"datum": 0, "axis": null}, "text": {"field": "t"}}},
      {"data": {"name": "gl"}, "transform": [{"filter": "datum.g === 'C2' && datum.side === 'M'"}], "mark": {"type": "text", "align": "right", "baseline": "top", "dx": 6, "dy": 3, "fontSize": 12}, "encoding": {"x": {"datum": 1.3036}, "y": {"datum": 1, "axis": null}, "text": {"field": "t"}}},
      {"data": {"name": "gl"}, "transform": [{"filter": "datum.g === 'C2' && datum.side === 'Mi'"}], "mark": {"type": "text", "align": "right", "baseline": "top", "dx": -29, "dy": 3, "fontSize": 12, "fontStyle": "italic"}, "encoding": {"x": {"datum": 1.3036}, "y": {"datum": 1, "axis": null}, "text": {"field": "t"}}},
      {"data": {"name": "gl"}, "transform": [{"filter": "datum.g === 'C2' && datum.side === 'Mp'"}], "mark": {"type": "text", "align": "right", "baseline": "top", "dx": -43, "dy": 3, "fontSize": 12}, "encoding": {"x": {"datum": 1.3036}, "y": {"datum": 1, "axis": null}, "text": {"field": "t"}}}
     ]
    }
   ]
  }
 ],
 "config": {
  "font": "Liberation Sans",
  "view": {"stroke": null},
  "axis": {"labelFontSize": 13, "titleFontSize": 12.5, "titleFontWeight": "normal", "labelColor": "black", "titleColor": "black", "tickColor": "black", "tickSize": 3, "tickWidth": 1, "domain": false, "grid": false, "labelPadding": 2, "titlePadding": 2, "labelFlush": false, "labelOverlap": false},
  "axisY": {"titlePadding": 6},
  "text": {"fontSize": 12.5, "color": "black"}
 }
}
